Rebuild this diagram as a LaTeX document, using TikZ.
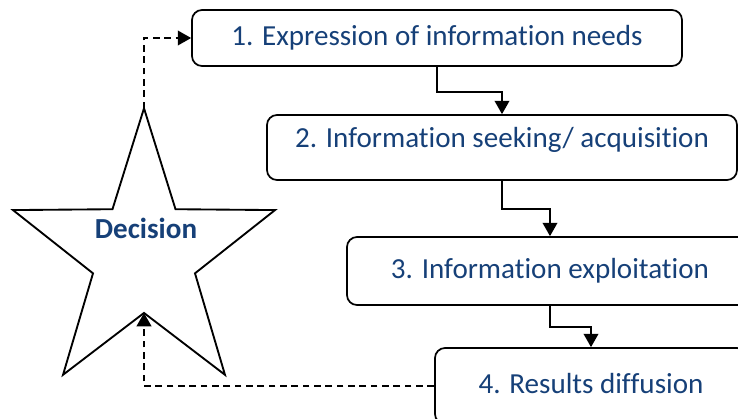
\documentclass[tikz,border=0pt]{standalone}
\usepackage{fontspec}
\setmainfont{Carlito}[Ligatures=NoCommon]
\usepackage{xcolor}
\usepackage{tikz}
\usetikzlibrary{positioning,arrows.meta,shapes.geometric,calc}
\definecolor{txtblue}{RGB}{22,64,120}

\begin{document}
\begin{tikzpicture}[x=0.75pt, y=-0.75pt, font=\fontsize{21.8}{26}\selectfont,
  box/.style={draw, line width=1.3pt, rounded corners=7.5pt, align=center, inner sep=2pt,
    text=txtblue, text height=15pt, text depth=4.5pt},
  decstar/.style={draw, line width=1.4pt, star, star points=5, star point ratio=2.57,
    minimum size=221pt, inner sep=0pt, outer sep=0pt, xscale=0.935},
  arr/.style={line width=1.3pt, -{Triangle[length=10pt, width=11pt]}},
  back/.style={arr, dash pattern=on 5pt off 3.5pt}]
\useasboundingbox (0,0) rectangle (738,418);
\clip (0,0) rectangle (738,418);
% steps
\node[box, minimum width=367.5pt, minimum height=42pt] (b1) at (437,38) {1. Expression of information needs};
\node[box, minimum width=352.5pt, minimum height=48.75pt, text height=15pt, text depth=15pt] (b2) at (502,147.5) {2. Information seeking/ acquisition};
\node[box, minimum width=304.5pt, minimum height=51pt] (b3) at (550,271) {3. Information exploitation};
\node[box, minimum width=234pt, minimum height=57pt] (b4) at (591,386) {4. Results diffusion};
% decision
\node[decstar] (dec) at (144,255.6) {};
\node[text=txtblue, font=\fontsize{21.8}{26}\selectfont\bfseries] (declbl) at (146,228) {Decision};
\draw[arr] (b1.south) -- ++(0,25) -| (b2.north);
\draw[arr] (b2.south) -- ++(0,28) -| (b3.north);
\draw[arr] (b3.south) -- ++(0,21) -| (b4.north);
\draw[back] (b4.west) -| (dec.inner point 3);
\draw[back] (dec.outer point 1) |- (b1.west);
\end{tikzpicture}
\end{document}
